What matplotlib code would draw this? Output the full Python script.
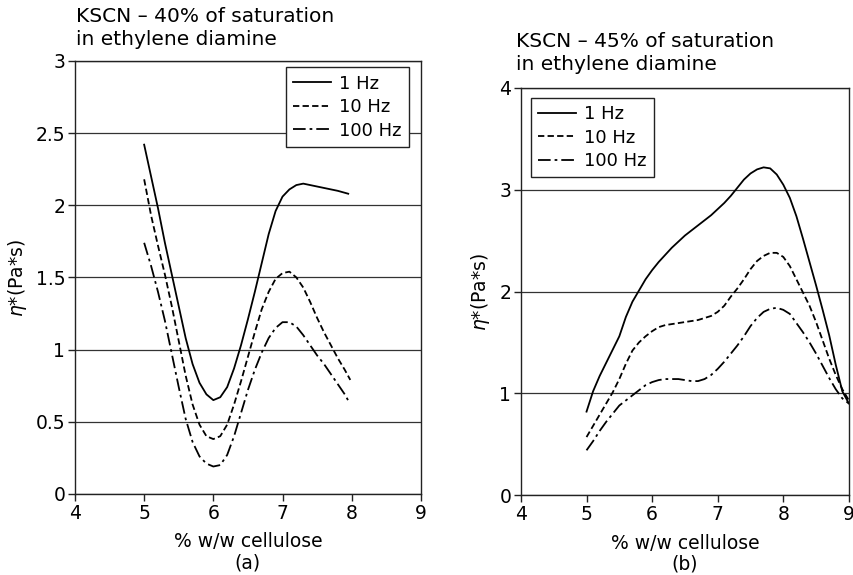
import matplotlib
matplotlib.use("Agg")
import matplotlib.pyplot as plt

plt.rcParams['font.family'] = ['DejaVu Sans']
plt.rcParams['mathtext.fontset'] = 'dejavusans'

# ---- Panel (a): KSCN 40% of saturation ----
xa_1 = [5.0, 5.1, 5.2, 5.3, 5.4, 5.5, 5.6, 5.7, 5.8, 5.9, 6.0, 6.1, 6.2, 6.3, 6.4,
        6.5, 6.6, 6.7, 6.8, 6.9, 7.0, 7.1, 7.2, 7.3, 7.4, 7.6, 7.8, 7.95]
ya_1 = [2.42, 2.20, 1.98, 1.74, 1.52, 1.30, 1.08, 0.90, 0.77, 0.69, 0.65, 0.67, 0.74,
        0.87, 1.03, 1.21, 1.40, 1.60, 1.80, 1.96, 2.06, 2.11, 2.14, 2.15, 2.14, 2.12,
        2.10, 2.08]
xa_10 = [5.0, 5.1, 5.2, 5.3, 5.4, 5.5, 5.6, 5.7, 5.8, 5.9, 6.0, 6.1, 6.2, 6.3, 6.4,
         6.5, 6.6, 6.7, 6.8, 6.9, 7.0, 7.1, 7.2, 7.3, 7.4, 7.5, 7.6, 7.7, 7.8, 7.9, 7.98]
ya_10 = [2.18, 1.93, 1.72, 1.52, 1.30, 1.06, 0.82, 0.62, 0.48, 0.40, 0.38, 0.40, 0.48,
         0.62, 0.78, 0.95, 1.12, 1.28, 1.40, 1.49, 1.53, 1.54, 1.50, 1.43, 1.33, 1.22,
         1.12, 1.03, 0.94, 0.86, 0.79]
xa_100 = [5.0, 5.1, 5.2, 5.3, 5.4, 5.5, 5.6, 5.7, 5.8, 5.9, 6.0, 6.1, 6.2, 6.3, 6.4,
          6.5, 6.6, 6.7, 6.8, 6.9, 7.0, 7.1, 7.2, 7.3, 7.4, 7.5, 7.6, 7.7, 7.8, 7.9, 7.97]
ya_100 = [1.74, 1.58, 1.40, 1.20, 0.97, 0.74, 0.52, 0.36, 0.26, 0.21, 0.19, 0.20, 0.27,
          0.40, 0.56, 0.72, 0.86, 0.98, 1.08, 1.15, 1.19, 1.19, 1.16, 1.10, 1.03, 0.96,
          0.90, 0.83, 0.76, 0.69, 0.63]

# ---- Panel (b): KSCN 45% of saturation ----
xb = [5.0, 5.1, 5.2, 5.3, 5.4, 5.5, 5.6, 5.7, 5.8, 5.9, 6.0, 6.1, 6.2, 6.3, 6.4, 6.5,
      6.6, 6.7, 6.8, 6.9, 7.0, 7.1, 7.2, 7.3, 7.4, 7.5, 7.6, 7.7, 7.8, 7.9, 8.0, 8.1,
      8.2, 8.3, 8.4, 8.5, 8.6, 8.7, 8.8, 8.9, 9.0]
yb_1 = [0.82, 1.02, 1.17, 1.30, 1.43, 1.56, 1.75, 1.90, 2.01, 2.12, 2.21, 2.29, 2.36,
        2.43, 2.49, 2.55, 2.60, 2.65, 2.70, 2.75, 2.81, 2.87, 2.94, 3.02, 3.10, 3.16,
        3.20, 3.22, 3.21, 3.15, 3.05, 2.92, 2.74, 2.52, 2.29, 2.06, 1.82, 1.57, 1.28,
        1.02, 0.90]
yb_10 = [0.57, 0.68, 0.79, 0.90, 1.01, 1.14, 1.29, 1.42, 1.50, 1.56, 1.61, 1.65, 1.67,
         1.68, 1.69, 1.70, 1.71, 1.72, 1.74, 1.76, 1.80, 1.86, 1.95, 2.03, 2.12, 2.22,
         2.30, 2.35, 2.38, 2.38, 2.34, 2.25, 2.12, 1.99, 1.86, 1.70, 1.52, 1.34, 1.18,
         1.04, 0.93]
yb_100 = [0.44, 0.53, 0.63, 0.72, 0.80, 0.88, 0.93, 0.98, 1.03, 1.08, 1.11, 1.13, 1.14,
          1.14, 1.14, 1.13, 1.12, 1.12, 1.14, 1.18, 1.24, 1.31, 1.39, 1.47, 1.56, 1.66,
          1.74, 1.80, 1.83, 1.84, 1.82, 1.78, 1.69, 1.60, 1.50, 1.39, 1.27, 1.15, 1.04,
          0.95, 0.90]

labels = ['1 Hz', '10 Hz', '100 Hz']
xticks = [4, 5, 6, 7, 8, 9]
yticks_a = [0, 0.5, 1, 1.5, 2, 2.5, 3]
yticks_b = [0, 1, 2, 3, 4]
yticklabels_a = ['0', '0.5', '1', '1.5', '2', '2.5', '3']

fig = plt.figure(figsize=(8.54, 5.75), dpi=100)
axa = fig.add_axes([0.0878, 0.141, 0.405, 0.753])
axb = fig.add_axes([0.610, 0.139, 0.384, 0.708])

styles = [dict(ls='-'), dict(ls=(0, (3.5, 1.8))), dict(ls=(0, (7, 2.2, 1.5, 2.2)))]
lw = 1.3
FS = 13.5

def style_axes(ax, yticks, ylim, yticklabels=None):
    ax.set_xlim(4, 9)
    ax.set_ylim(*ylim)
    ax.set_xticks(xticks)
    ax.set_yticks(yticks)
    if yticklabels is not None:
        ax.set_yticklabels(yticklabels)
    ax.grid(axis='y', color='#333333', lw=0.9)
    ax.set_axisbelow(True)
    for s in ax.spines.values():
        s.set_color('#222222')
        s.set_linewidth(1.0)
    ax.tick_params(direction='out', length=5, width=1.0, colors='#222222',
                   labelsize=FS, labelcolor='black', pad=2)
    ax.set_ylabel(r'$\eta$*(Pa*s)', fontsize=FS, labelpad=5)

for x, y, st, lab in zip([xa_1, xa_10, xa_100], [ya_1, ya_10, ya_100], styles, labels):
    axa.plot(x, y, color='black', lw=lw, label=lab, **st)
for y, st, lab in zip([yb_1, yb_10, yb_100], styles, labels):
    axb.plot(xb, y, color='black', lw=lw, label=lab, **st)

style_axes(axa, yticks_a, (0, 3), yticklabels_a)
style_axes(axb, yticks_b, (0, 4))

axa.set_xlabel('% w/w cellulose\n(a)', fontsize=FS, labelpad=7, linespacing=1.15)
axb.set_xlabel('% w/w cellulose\n(b)', fontsize=FS, labelpad=7, linespacing=1.15)

for ax, loc, anchor in [(axa, 'upper right', (0.965, 0.985)), (axb, 'upper left', (0.03, 0.975))]:
    leg = ax.legend(loc=loc, bbox_to_anchor=anchor, fontsize=13, frameon=True,
                    fancybox=False, edgecolor='#222222', handlelength=2.1,
                    handletextpad=0.45, borderpad=0.4, labelspacing=0.3,
                    borderaxespad=0.0)
    leg.get_frame().set_linewidth(1.0)
    leg.get_frame().set_alpha(1)

fig.text(0.089, 1 - 45 / 575, 'KSCN – 40% of saturation\nin ethylene diamine',
         fontsize=14.5, va='baseline', ha='left', linespacing=1.25)
fig.text(0.604, 1 - 70 / 575, 'KSCN – 45% of saturation\nin ethylene diamine',
         fontsize=14.5, va='baseline', ha='left', linespacing=1.25)

fig.savefig('out.png', dpi=100)
